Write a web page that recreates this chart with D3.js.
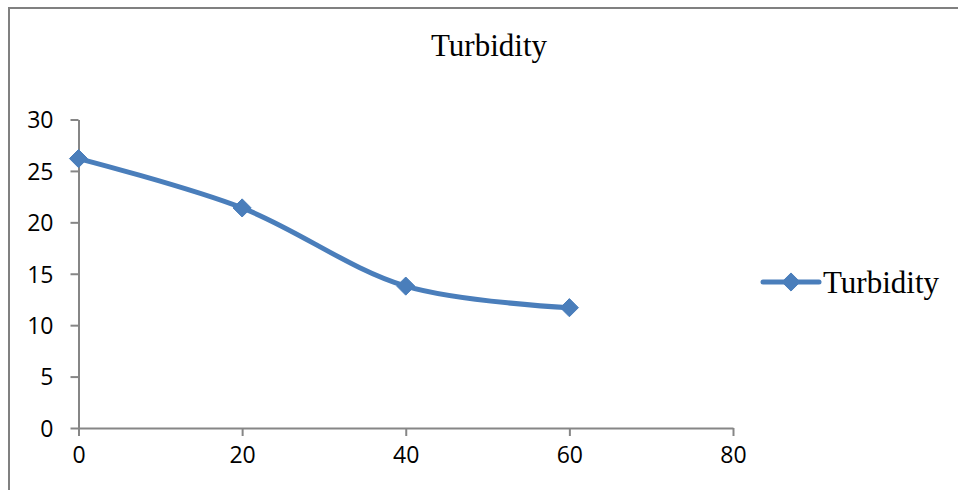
<!DOCTYPE html>
<html>
<head>
<meta charset="utf-8">
<script src="https://cdn.jsdelivr.net/npm/d3@7"></script>
<style>
  html, body { margin: 0; padding: 0; background: #fff; }
  svg { display: block; }
</style>
</head>
<body>
<svg id="chart" width="958" height="490"></svg>
<script>
// Turbidity readings over time
const times = [0, 20, 40, 60];
const turbidity = [26.2, 21.4, 13.8, 11.7];
const xTicks = [0, 20, 40, 60, 80];
const yTicks = [0, 5, 10, 15, 20, 25, 30];
const seriesName = "Turbidity";
const chartTitle = "Turbidity";

const blue = "#4a7ebb";
const axisGrey = "#868686";

const svg = d3.select("#chart");

// outer frame (top and left edges)
svg.append("path")
  .attr("d", "M9,490 V8 H958")
  .attr("fill", "none")
  .attr("stroke", "#808080")
  .attr("stroke-width", 2);

const x = d3.scaleLinear().domain([0, 80]).range([78.5, 733]);
const y = d3.scaleLinear().domain([0, 30]).range([428, 119.5]);

// title
svg.append("text")
  .attr("x", 489)
  .attr("y", 56)
  .attr("text-anchor", "middle")
  .attr("font-family", "'Liberation Serif', 'Times New Roman', serif")
  .attr("font-size", 31)
  .attr("fill", "#000")
  .text(chartTitle);

// y axis
const yAxis = svg.append("g")
  .attr("transform", `translate(${x(0)},0)`)
  .call(d3.axisLeft(y).tickValues(yTicks).tickSize(8).tickPadding(17).tickSizeOuter(0));

// x axis
const xAxis = svg.append("g")
  .attr("transform", `translate(0,${y(0)})`)
  .call(d3.axisBottom(x).tickValues(xTicks).tickSize(8).tickPadding(10).tickSizeOuter(0));

[yAxis, xAxis].forEach(g => {
  g.selectAll(".domain").attr("stroke", axisGrey).attr("stroke-width", 2);
  g.selectAll(".tick line").attr("stroke", axisGrey).attr("stroke-width", 2);
  g.selectAll(".tick text")
    .attr("font-family", "'Open Sans', sans-serif")
    .attr("font-size", 23)
    .attr("fill", "#000");
});
yAxis.selectAll(".tick text").attr("dy", "0.36em");
xAxis.selectAll(".tick text").attr("dy", "0.74em");

const points = times.map((t, i) => ({ t, v: turbidity[i] }));

// smoothed series line
const line = d3.line()
  .x(d => x(d.t))
  .y(d => y(d.v))
  .curve(d3.curveCatmullRom.alpha(0.5));

svg.append("path")
  .datum(points)
  .attr("d", line)
  .attr("fill", "none")
  .attr("stroke", blue)
  .attr("stroke-width", 5)
  .attr("stroke-linecap", "round");

// diamond markers
const diamond = d3.symbol().type(d3.symbolDiamond2).size(210);
svg.selectAll(".marker")
  .data(points)
  .join("path")
  .attr("class", "marker")
  .attr("d", diamond)
  .attr("transform", d => `translate(${x(d.t)},${y(d.v)})`)
  .attr("fill", blue)
  .attr("stroke", blue)
  .attr("stroke-width", 1);

// legend
const legend = svg.append("g").attr("transform", "translate(763,282)");
legend.append("line")
  .attr("x1", 0).attr("x2", 56)
  .attr("y1", 0).attr("y2", 0)
  .attr("stroke", blue)
  .attr("stroke-width", 5)
  .attr("stroke-linecap", "round");
legend.append("path")
  .attr("d", diamond)
  .attr("transform", "translate(28,0)")
  .attr("fill", blue)
  .attr("stroke", blue);
legend.append("text")
  .attr("x", 60)
  .attr("y", 11)
  .attr("font-family", "'Liberation Serif', 'Times New Roman', serif")
  .attr("font-size", 31)
  .attr("fill", "#000")
  .text(seriesName);
</script>
</body>
</html>
